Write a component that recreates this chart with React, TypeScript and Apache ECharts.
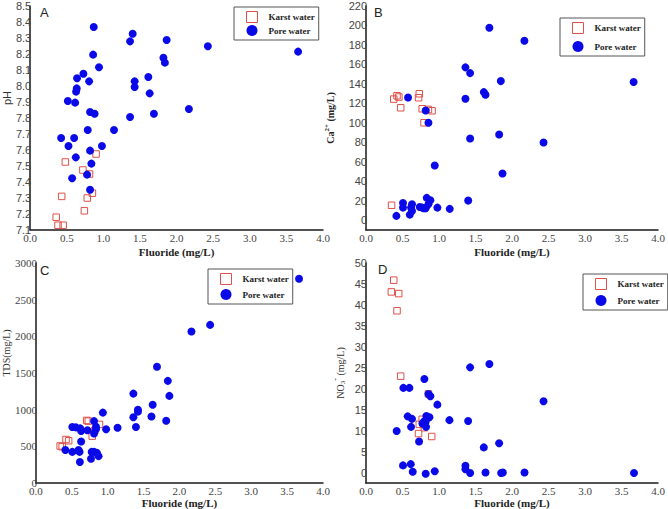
import React, { useEffect, useRef } from 'react';
import * as echarts from 'echarts';

// [fluoride (mg/L), value] pairs
const karstPH: number[][] = [
  [0.355, 7.18], [0.38, 7.13], [0.45, 7.13], [0.43, 7.31], [0.48, 7.525], [0.72, 7.475],
  [0.81, 7.45], [0.74, 7.22], [0.78, 7.3], [0.85, 7.33], [0.9, 7.575],
];
const porePH: number[][] = [
  [0.868, 8.369], [1.4, 8.327], [1.364, 8.279], [1.864, 8.288], [2.427, 8.248], [3.66, 8.215],
  [0.86, 8.196], [1.82, 8.177], [1.84, 8.146], [0.94, 8.117], [0.727, 8.077], [0.64, 8.048],
  [0.805, 8.029], [1.427, 8.029], [1.427, 7.994], [1.614, 8.056], [0.636, 7.985], [0.627, 7.965],
  [1.632, 7.954], [0.514, 7.906], [0.614, 7.896], [2.168, 7.856], [0.818, 7.838], [0.88, 7.827],
  [1.69, 7.827], [1.364, 7.806], [0.786, 7.725], [1.145, 7.725], [0.423, 7.675], [0.6, 7.675],
  [0.523, 7.625], [0.98, 7.625], [0.818, 7.596], [0.623, 7.554], [0.836, 7.515], [0.777, 7.446],
  [0.573, 7.423], [0.818, 7.352],
];
const karstCa: number[][] = [
  [0.35, 15.4], [0.38, 124.4], [0.425, 127.8], [0.45, 126.5], [0.475, 115.5], [0.73, 129.9],
  [0.72, 125.8], [0.77, 114.5], [0.855, 113.8], [0.905, 112.4], [0.795, 100.1],
];
const poreCa: number[][] = [
  [1.69, 197.7], [2.17, 184.4], [1.362, 157], [1.426, 151.1], [1.847, 142.9], [3.666, 141.9],
  [1.614, 131.6], [1.637, 128.9], [0.576, 126.1], [1.362, 124.7], [0.818, 112.7], [0.855, 100.1],
  [1.824, 88.1], [1.426, 84], [2.432, 79.8], [0.942, 56.2], [1.87, 48], [1.4, 20.2],
  [0.416, 4.5], [0.6, 5.8], [0.63, 9.6], [0.507, 13], [0.507, 17.8], [0.63, 16.5],
  [0.617, 13], [0.736, 13.7], [0.79, 12.3], [0.818, 12.3], [0.832, 23], [0.882, 20.6],
  [0.855, 16.4], [0.978, 13], [1.147, 11.7], [0.77, 13],
];
const karstTDS: number[][] = [
  [0.708, 853], [0.73, 844], [0.886, 799], [0.822, 719], [0.785, 639], [0.42, 593],
  [0.456, 576], [0.338, 505], [0.366, 495],
];
const poreTDS: number[][] = [
  [3.666, 2786], [2.427, 2156], [2.167, 2067], [1.687, 1585], [1.838, 1393], [1.86, 1188],
  [1.358, 1219], [1.627, 1067], [1.422, 1000], [1.422, 973], [0.933, 960], [1.358, 897],
  [1.61, 906], [1.815, 848], [0.81, 844], [1.394, 763], [1.138, 754], [0.978, 732],
  [0.507, 763], [0.558, 759], [0.617, 745], [0.63, 710], [0.718, 719], [0.837, 768],
  [0.81, 674], [0.63, 567], [0.411, 451], [0.594, 451], [0.608, 424], [0.507, 424],
  [0.777, 424], [0.81, 424], [0.85, 411], [0.873, 366], [0.768, 330], [0.613, 286],
  [0.837, 732],
];
const karstNO3: number[][] = [
  [0.38, 45.9], [0.347, 43.1], [0.448, 42.7], [0.425, 38.6], [0.475, 23.0], [0.72, 9.3],
  [0.9, 8.6], [0.73, 11.5], [0.77, 12.7], [0.8, 10.7], [0.855, 18.75],
];
const poreNO3: number[][] = [
  [1.69, 25.9], [1.426, 25.1], [0.8, 22.3], [0.512, 20.2], [0.594, 20.2], [0.855, 18.75],
  [0.882, 18.2], [0.978, 16.2], [2.432, 17.0], [0.571, 13.4], [0.63, 12.8], [0.827, 13.5],
  [0.869, 13.2], [1.143, 12.5], [1.399, 12.3], [0.795, 12.2], [0.818, 12.2], [0.773, 11.7],
  [0.823, 10.9], [0.617, 10.9], [0.42, 9.9], [0.727, 7.4], [1.824, 7.0], [1.614, 6.0],
  [0.507, 1.7], [0.613, 2.0], [1.362, 1.6], [1.362, 0.8], [0.64, 0.2], [0.818, -0.3],
  [0.942, 0.3], [1.426, -0.1], [1.637, 0], [1.851, -0.1], [1.874, 0], [2.171, 0],
  [3.671, -0.1],
];

const SERIF = '"Liberation Serif", "Times New Roman", serif';
const SANS = '"Liberation Sans", Arial, sans-serif';
const RED = '#e0504a';
const BLUE = '#0a0ae8';

const App: React.FC = () => {
  const chartRef = useRef<HTMLDivElement>(null);

  useEffect(() => {
    if (!chartRef.current) return;
    const chart = echarts.init(chartRef.current, undefined, { renderer: 'svg' });

    const grids = [
      { left: 30, top: 6, width: 293, height: 224 },
      { left: 366, top: 6, width: 292, height: 224 },
      { left: 31, top: 263, width: 292, height: 224 },
      { left: 366, top: 263, width: 292, height: 224 },
    ];

    const axisLine = { show: true, onZero: false, lineStyle: { color: '#1a1a1a', width: 1.5 } };

    const xAxes = grids.map((_, i) => ({
      type: 'value',
      gridIndex: i,
      min: 0,
      max: 4,
      interval: 0.5,
      axisLine,
      axisTick: { show: false },
      splitLine: { show: false },
      axisLabel: {
        formatter: (v: number) => v.toFixed(1),
        fontFamily: SERIF,
        fontSize: 11,
        color: '#444',
        margin: 2,
      },
      name: 'Fluoride (mg/L)',
      nameLocation: 'middle',
      nameGap: i < 2 ? 16 : 14,
      nameTextStyle: { fontFamily: SERIF, fontWeight: 'bold', fontSize: 11, color: '#222' },
    }));

    const yLabel = (font: string, fmt: (v: number) => string) => ({
      fontFamily: font,
      fontSize: 11,
      color: '#444',
      margin: -1,
      formatter: fmt,
    });

    const yAxes = [
      {
        type: 'value', gridIndex: 0, min: 7.1, max: 8.5, interval: 0.1,
        axisLabel: yLabel(SANS, (v: number) => v.toFixed(1)),
        name: 'pH', nameGap: 17,
        nameTextStyle: { fontFamily: SANS, fontSize: 11, color: '#333', padding: [0, 0, 0, 40] },
      },
      {
        type: 'value', gridIndex: 1, min: -10, max: 220, interval: 10,
        axisLabel: yLabel(SANS, (v: number) => (v >= 0 && Math.round(v) % 20 === 0 ? String(Math.round(v)) : '')),
        name: '{b|Ca}{sup|2+}{b| (mg/L)}', nameGap: 28,
        nameTextStyle: {
          rich: {
            b: { fontFamily: SERIF, fontWeight: 'bold', fontSize: 10, color: '#222' },
            sup: { fontFamily: SERIF, fontWeight: 'bold', fontSize: 7, color: '#222', padding: [0, 0, 8, 0] },
          },
        },
      },
      {
        type: 'value', gridIndex: 2, min: 0, max: 3000, interval: 500,
        axisLabel: yLabel(SERIF, (v: number) => String(v)),
        name: 'TDS(mg/L)', nameGap: 21,
        nameTextStyle: { fontFamily: SERIF, fontSize: 10, color: '#333', padding: [0, 0, 0, 40] },
      },
      {
        type: 'value', gridIndex: 3, min: -2.5, max: 50, interval: 2.5,
        axisLabel: yLabel(SANS, (v: number) => (v >= 0 && Math.round(v * 10) % 50 === 0 ? String(Math.round(v)) : '')),
        name: '{n|NO}{sub|3}{sup|-}{n| (mg/L)}', nameGap: 17,
        nameTextStyle: {
          rich: {
            n: { fontFamily: SERIF, fontSize: 10, color: '#333' },
            sub: { fontFamily: SERIF, fontSize: 7, color: '#333', padding: [6, 0, 0, 0] },
            sup: { fontFamily: SERIF, fontSize: 8, color: '#333', padding: [0, 0, 10, 0] },
          },
        },
      },
    ].map((y) => ({
      ...y,
      nameLocation: 'middle',
      axisLine,
      axisTick: { show: false },
      splitLine: { show: false },
    }));

    const legendBoxes = [
      { left: 234, top: 7, itemGap: 2 },
      { left: 560, top: 18, itemGap: 7 },
      { left: 208, top: 269, itemGap: 4 },
      { left: 583, top: 274, itemGap: 5 },
    ];

    const legends = legendBoxes.map((b) => ({
      left: b.left,
      top: b.top,
      orient: 'vertical',
      backgroundColor: '#fff',
      borderColor: '#555',
      borderWidth: 1,
      borderRadius: 0,
      padding: [4, 4, 4, 12],
      itemGap: b.itemGap,
      itemWidth: 11,
      itemHeight: 11,
      textStyle: { fontFamily: SERIF, fontWeight: 'bold', fontSize: 9, color: '#222', padding: [0, 0, 0, 6] },
      data: [
        { name: 'Karst water', icon: 'rect', itemStyle: { color: '#fff', borderColor: RED, borderWidth: 1 } },
        { name: 'Pore water', icon: 'circle', itemStyle: { color: BLUE } },
      ],
    }));

    const panels = [
      [karstPH, porePH],
      [karstCa, poreCa],
      [karstTDS, poreTDS],
      [karstNO3, poreNO3],
    ];

    const series: any[] = [];
    panels.forEach(([karst, pore], i) => {
      series.push({
        name: 'Karst water',
        type: 'scatter',
        xAxisIndex: i,
        yAxisIndex: i,
        symbol: 'rect',
        symbolSize: 6.5,
        itemStyle: { color: 'rgba(255,255,255,0)', borderColor: RED, borderWidth: 1, opacity: 1 },
        data: karst,
      });
      series.push({
        name: 'Pore water',
        type: 'scatter',
        xAxisIndex: i,
        yAxisIndex: i,
        symbol: 'circle',
        symbolSize: 8,
        itemStyle: { color: BLUE, opacity: 1 },
        data: pore,
      });
    });

    const letters = [
      { t: 'A', x: 40, y: 6 },
      { t: 'B', x: 374, y: 6 },
      { t: 'C', x: 40, y: 264 },
      { t: 'D', x: 378, y: 263 },
    ];

    const option: any = {
      animation: false,
      backgroundColor: '#fff',
      grid: grids,
      xAxis: xAxes,
      yAxis: yAxes,
      legend: legends,
      series,
      graphic: letters.map((l) => ({
        type: 'text',
        left: l.x,
        top: l.y,
        style: { text: l.t, fontFamily: SANS, fontSize: 13, fill: '#222' },
      })),
    };

    chart.setOption(option);

    const handleResize = () => chart.resize();
    window.addEventListener('resize', handleResize);
    return () => {
      window.removeEventListener('resize', handleResize);
      chart.dispose();
    };
  }, []);

  return (
    <div
      ref={chartRef}
      style={{ position: 'fixed', left: 0, top: 0, width: 668, height: 509, background: '#fff' }}
    />
  );
};

export default App;
